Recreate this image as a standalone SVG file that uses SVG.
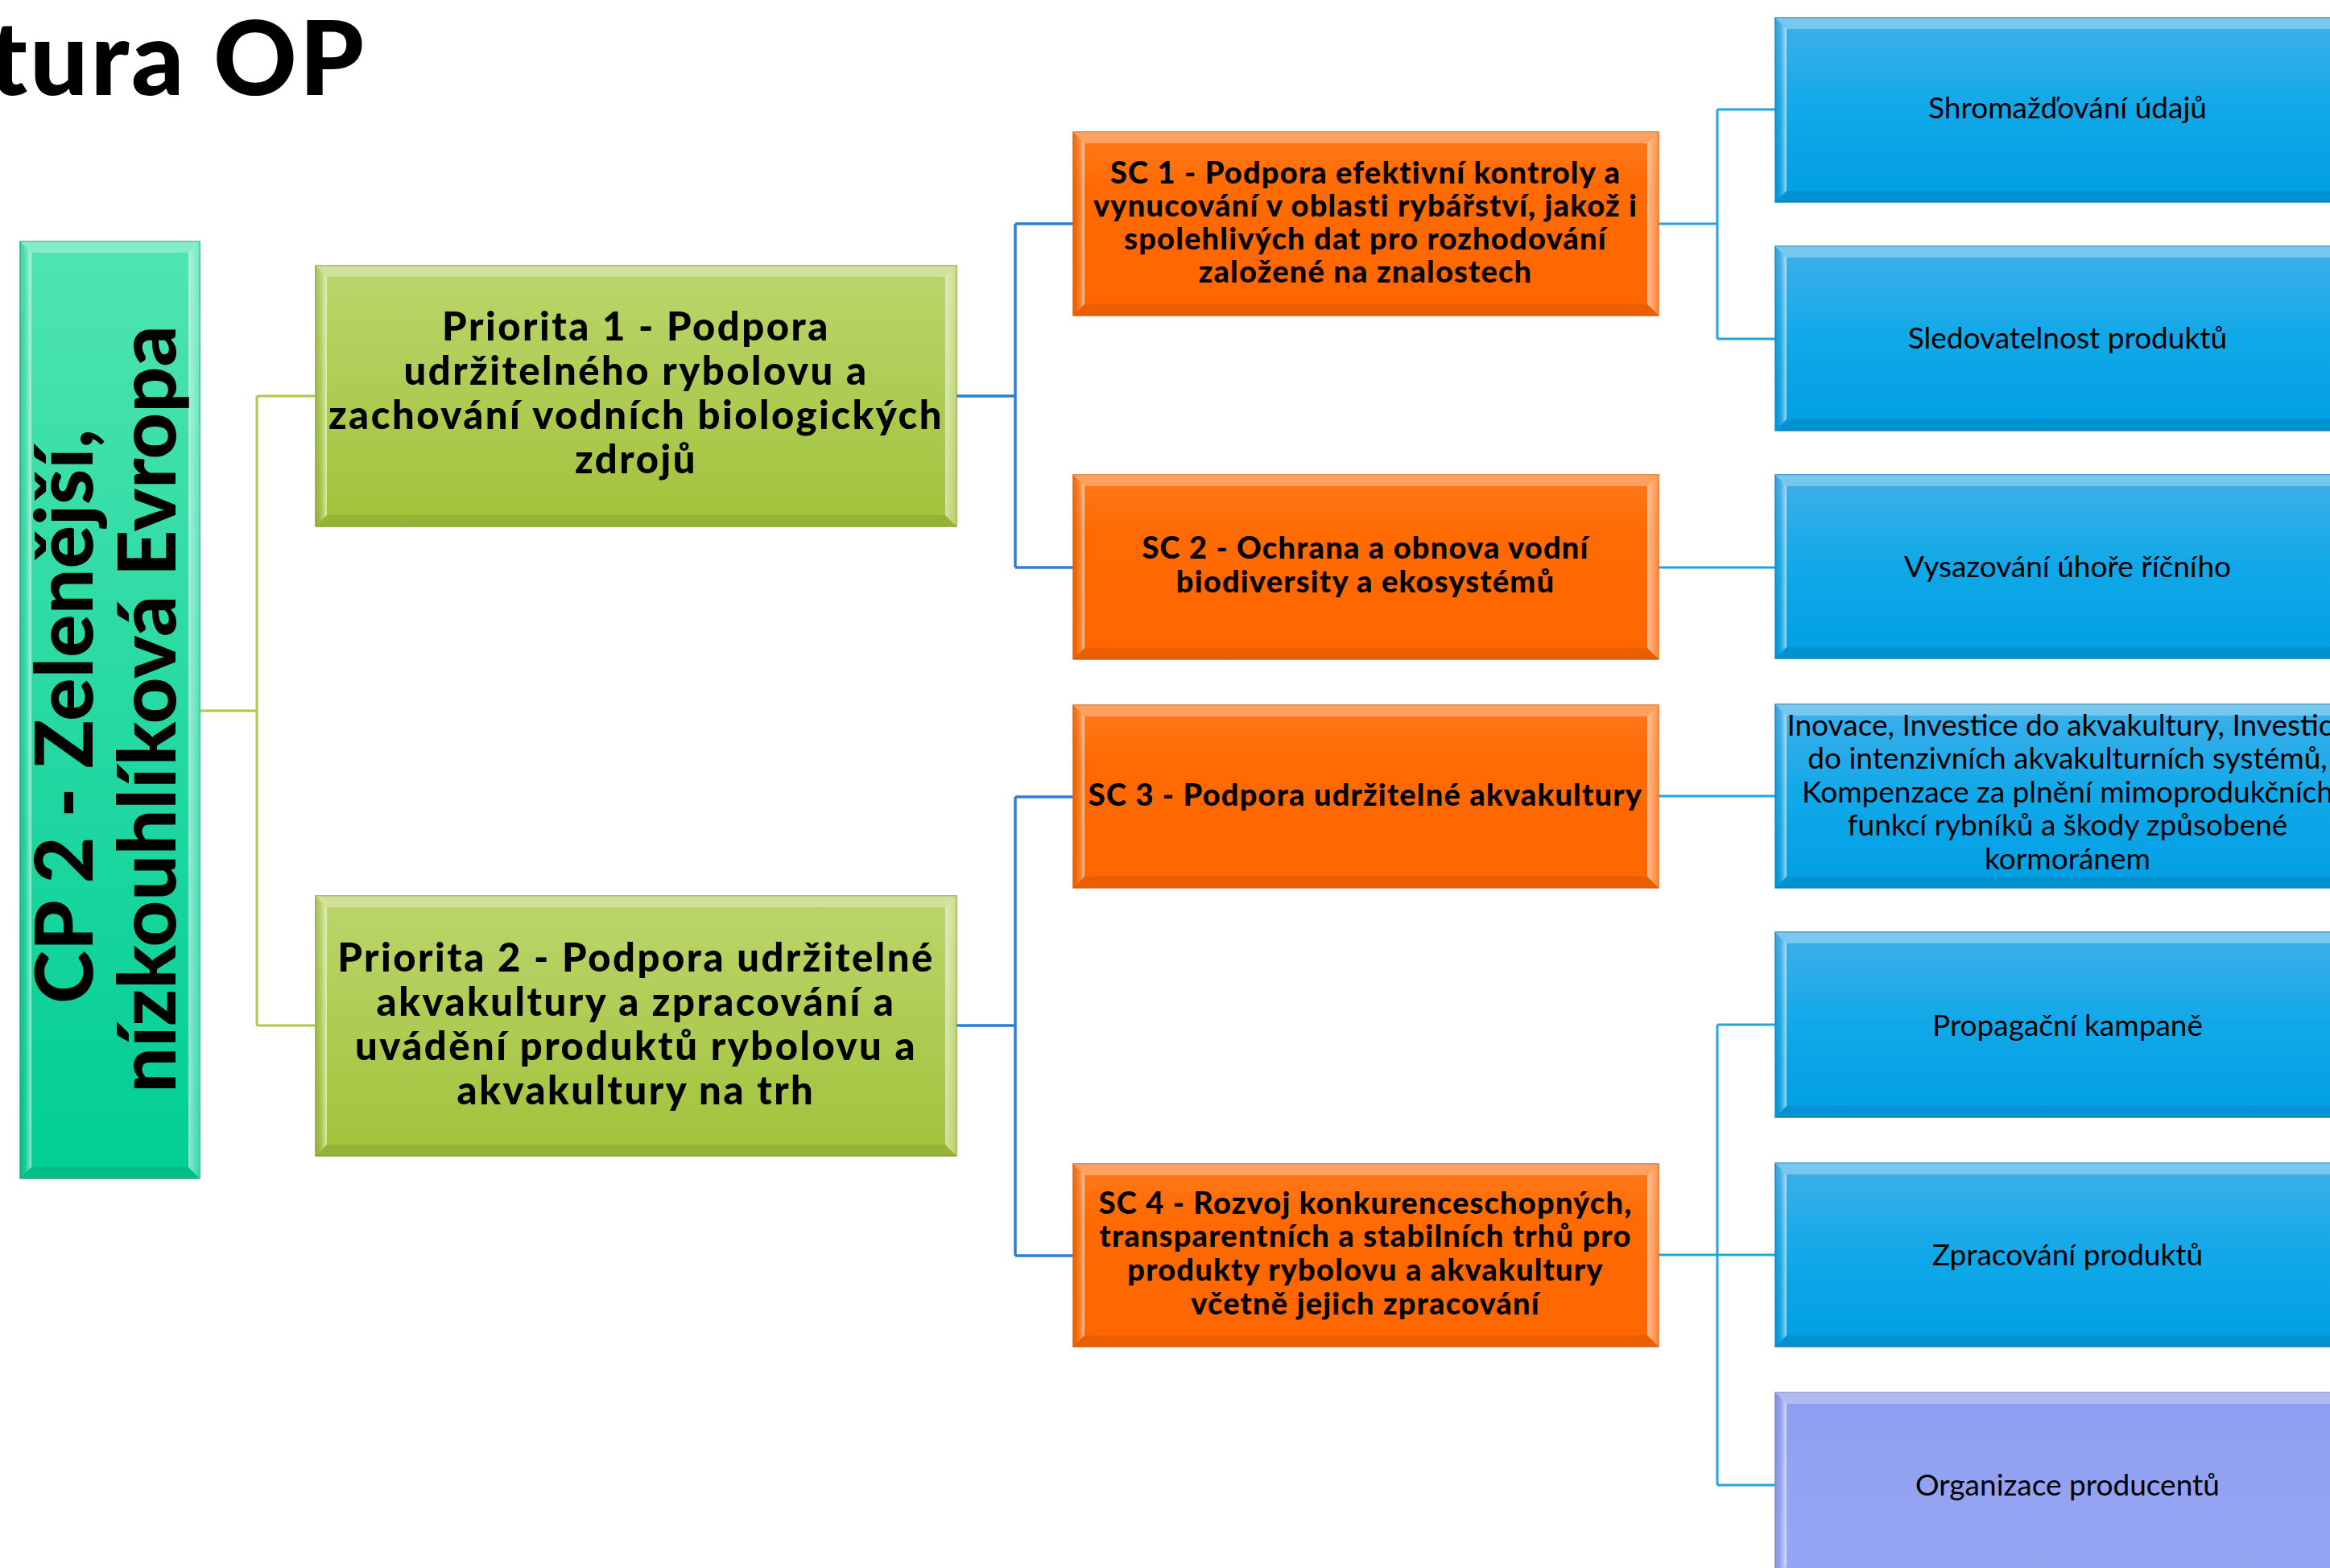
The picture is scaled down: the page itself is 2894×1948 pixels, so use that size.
<svg xmlns="http://www.w3.org/2000/svg" width="2894" height="1948" viewBox="0 0 2894 1948">
<style>
text{font-family:Lato,"Open Sans","Liberation Sans",sans-serif;fill:#000;text-anchor:middle}
.t{font-size:128px;font-weight:900;text-anchor:end;letter-spacing:3px}
.cp{font-size:100px;font-weight:900}
.pr{font-size:49px;font-weight:900;letter-spacing:2.5px}
.sc{font-size:38px;font-weight:900;letter-spacing:1.2px}
.bx{font-size:37px}
.bt{fill:#fff;fill-opacity:.3}
.bb{fill:#000;fill-opacity:.08}
.bl{fill:url(#gL)}
.br{fill:url(#gR)}
.cg{fill:none;stroke:#aac94c;stroke-width:3}
.cb{fill:none;stroke:#2a7fd6;stroke-width:3.5}
.cl{fill:none;stroke:#22a6de;stroke-width:3}
</style>
<defs>
<linearGradient id="gCP" x1="0" y1="0" x2="0" y2="1"><stop offset="0" stop-color="#4ee4b0"/><stop offset="1" stop-color="#00ce95"/></linearGradient>
<linearGradient id="gPr" x1="0" y1="0" x2="0" y2="1"><stop offset="0" stop-color="#bad66c"/><stop offset="1" stop-color="#a2c23a"/></linearGradient>
<linearGradient id="gSC" x1="0" y1="0" x2="0" y2="1"><stop offset="0" stop-color="#ff7a1e"/><stop offset=".3" stop-color="#ff6a02"/><stop offset="1" stop-color="#ff6600"/></linearGradient>
<linearGradient id="gBl" x1="0" y1="0" x2="0" y2="1"><stop offset="0" stop-color="#40b0ea"/><stop offset=".5" stop-color="#10a8e8"/><stop offset="1" stop-color="#009fe3"/></linearGradient>
<linearGradient id="gPu" x1="0" y1="0" x2="0" y2="1"><stop offset="0" stop-color="#8e9ef0"/><stop offset="1" stop-color="#97a6f3"/></linearGradient>
<linearGradient id="gL" x1="0" y1="0" x2="1" y2="0"><stop offset="0" stop-color="#000" stop-opacity=".06"/><stop offset=".6" stop-color="#fff" stop-opacity=".15"/><stop offset="1" stop-color="#fff" stop-opacity=".6"/></linearGradient>
<linearGradient id="gR" x1="0" y1="0" x2="1" y2="0"><stop offset="0" stop-color="#fff" stop-opacity=".55"/><stop offset="1" stop-color="#fff" stop-opacity=".2"/></linearGradient>
</defs>
<rect width="2894" height="1948" fill="#fff"/>
<text class="t" x="455" y="118">tura OP</text>

<g id="connectors">
<path class="cg" d="M248,883H319M319,492V1274M319,492H392M319,1274H392"/>
<path class="cb" d="M1188,492H1261M1261,278V705M1261,278H1333M1261,705H1333"/>
<path class="cb" d="M1188,1274H1261M1261,990V1560M1261,990H1333M1261,1560H1333"/>
<path class="cl" d="M2060,278H2133M2133,136V421M2133,136H2205M2133,421H2205"/>
<path class="cl" d="M2060,705H2205M2060,989H2205"/>
<path class="cl" d="M2060,1559H2133M2133,1273V1845M2133,1273H2205M2133,1559H2205M2133,1845H2205"/>
</g>

<g id="cp2">
<rect x="25" y="300" width="223" height="1164" fill="url(#gCP)" stroke="#2fae84" stroke-width="1.5"/>
<polygon class="bt" points="25,300 248,300 234,314 39,314"/>
<polygon class="bl" points="25,300 39,314 39,1450 25,1464"/>
<polygon class="br" points="248,300 248,1464 234,1450 234,314"/>
<polygon class="bb" points="25,1464 39,1450 234,1450 248,1464"/>
<text class="cp" transform="translate(115,890) rotate(-90)">CP 2 - Zelenější,</text>
<text class="cp" transform="translate(218,881) rotate(-90)">nízkouhlíková Evropa</text>
</g>

<g id="priorita1">
<rect x="392" y="330" width="796" height="324" fill="url(#gPr)" stroke="#8fa83a" stroke-width="1.5"/>
<polygon class="bt" points="392,330 1188,330 1174,344 406,344"/>
<polygon class="bl" points="392,330 406,344 406,640 392,654"/>
<polygon class="br" points="1188,330 1188,654 1174,640 1174,344"/>
<polygon class="bb" points="392,654 406,640 1174,640 1188,654"/>
<text class="pr" x="790" y="423">Priorita 1 - Podpora</text>
<text class="pr" x="790" y="478">udržitelného rybolovu a</text>
<text class="pr" x="790" y="533">zachování vodních biologických</text>
<text class="pr" x="790" y="588">zdrojů</text>
</g>

<g id="priorita2">
<rect x="392" y="1113" width="796" height="323" fill="url(#gPr)" stroke="#8fa83a" stroke-width="1.5"/>
<polygon class="bt" points="392,1113 1188,1113 1174,1127 406,1127"/>
<polygon class="bl" points="392,1113 406,1127 406,1422 392,1436"/>
<polygon class="br" points="1188,1113 1188,1436 1174,1422 1174,1127"/>
<polygon class="bb" points="392,1436 406,1422 1174,1422 1188,1436"/>
<text class="pr" x="790" y="1207">Priorita 2 - Podpora udržitelné</text>
<text class="pr" x="790" y="1262">akvakultury a zpracování a</text>
<text class="pr" x="790" y="1317">uvádění produktů rybolovu a</text>
<text class="pr" x="790" y="1372">akvakultury na trh</text>
</g>

<g id="sc1">
<rect x="1333" y="164" width="727" height="228" fill="url(#gSC)" stroke="#d9661e" stroke-width="1.5"/>
<polygon class="bt" points="1333,164 2060,164 2046,178 1347,178"/>
<polygon class="bl" points="1333,164 1347,178 1347,378 1333,392"/>
<polygon class="br" points="2060,164 2060,392 2046,378 2046,178"/>
<polygon class="bb" points="1333,392 1347,378 2046,378 2060,392"/>
<text class="sc" x="1696" y="228">SC 1 - Podpora efektivní kontroly a</text>
<text class="sc" x="1696" y="269">vynucování v oblasti rybářství, jakož i</text>
<text class="sc" x="1696" y="310">spolehlivých dat pro rozhodování</text>
<text class="sc" x="1696" y="351">založené na znalostech</text>
</g>

<g id="sc2">
<rect x="1333" y="590" width="727" height="229" fill="url(#gSC)" stroke="#d9661e" stroke-width="1.5"/>
<polygon class="bt" points="1333,590 2060,590 2046,604 1347,604"/>
<polygon class="bl" points="1333,590 1347,604 1347,805 1333,819"/>
<polygon class="br" points="2060,590 2060,819 2046,805 2046,604"/>
<polygon class="bb" points="1333,819 1347,805 2046,805 2060,819"/>
<text class="sc" x="1696" y="694">SC 2 - Ochrana a obnova vodní</text>
<text class="sc" x="1696" y="736">biodiversity a ekosystémů</text>
</g>

<g id="sc3">
<rect x="1333" y="876" width="727" height="227" fill="url(#gSC)" stroke="#d9661e" stroke-width="1.5"/>
<polygon class="bt" points="1333,876 2060,876 2046,890 1347,890"/>
<polygon class="bl" points="1333,876 1347,890 1347,1089 1333,1103"/>
<polygon class="br" points="2060,876 2060,1103 2046,1089 2046,890"/>
<polygon class="bb" points="1333,1103 1347,1089 2046,1089 2060,1103"/>
<text class="sc" x="1696" y="1001">SC 3 - Podpora udržitelné akvakultury</text>
</g>

<g id="sc4">
<rect x="1333" y="1446" width="727" height="227" fill="url(#gSC)" stroke="#d9661e" stroke-width="1.5"/>
<polygon class="bt" points="1333,1446 2060,1446 2046,1460 1347,1460"/>
<polygon class="bl" points="1333,1446 1347,1460 1347,1659 1333,1673"/>
<polygon class="br" points="2060,1446 2060,1673 2046,1659 2046,1460"/>
<polygon class="bb" points="1333,1673 1347,1659 2046,1659 2060,1673"/>
<text class="sc" x="1696" y="1508">SC 4 - Rozvoj konkurenceschopných,</text>
<text class="sc" x="1696" y="1549">transparentních a stabilních trhů pro</text>
<text class="sc" x="1696" y="1591">produkty rybolovu a akvakultury</text>
<text class="sc" x="1696" y="1633">včetně jejich zpracování</text>
</g>

<g id="box1">
<rect x="2205" y="22" width="726" height="229" fill="url(#gBl)" stroke="#1d86bf" stroke-width="1.5"/>
<polygon class="bt" points="2205,22 2931,22 2917,36 2219,36"/>
<polygon class="bl" points="2205,22 2219,36 2219,237 2205,251"/>
<polygon class="bb" points="2205,251 2219,237 2917,237 2931,251"/>
<text class="bx" x="2568" y="147">Shromažďování údajů</text>
</g>

<g id="box2">
<rect x="2205" y="306" width="726" height="229" fill="url(#gBl)" stroke="#1d86bf" stroke-width="1.5"/>
<polygon class="bt" points="2205,306 2931,306 2917,320 2219,320"/>
<polygon class="bl" points="2205,306 2219,320 2219,521 2205,535"/>
<polygon class="bb" points="2205,535 2219,521 2917,521 2931,535"/>
<text class="bx" x="2568" y="433">Sledovatelnost produktů</text>
</g>

<g id="box3">
<rect x="2205" y="590" width="726" height="228" fill="url(#gBl)" stroke="#1d86bf" stroke-width="1.5"/>
<polygon class="bt" points="2205,590 2931,590 2917,604 2219,604"/>
<polygon class="bl" points="2205,590 2219,604 2219,804 2205,818"/>
<polygon class="bb" points="2205,818 2219,804 2917,804 2931,818"/>
<text class="bx" x="2568" y="717">Vysazování úhoře říčního</text>
</g>

<g id="box4">
<rect x="2205" y="875" width="726" height="228" fill="url(#gBl)" stroke="#1d86bf" stroke-width="1.5"/>
<polygon class="bt" points="2205,875 2931,875 2917,889 2219,889"/>
<polygon class="bl" points="2205,875 2219,889 2219,1089 2205,1103"/>
<polygon class="bb" points="2205,1103 2219,1089 2917,1089 2931,1103"/>
<text class="bx" x="2568" y="914">Inovace, Investice do akvakultury, Investice</text>
<text class="bx" x="2568" y="955">do intenzivních akvakulturních systémů,</text>
<text class="bx" x="2568" y="997">Kompenzace za plnění mimoprodukčních</text>
<text class="bx" x="2568" y="1038">funkcí rybníků a škody způsobené</text>
<text class="bx" x="2568" y="1080">kormoránem</text>
</g>

<g id="box5">
<rect x="2205" y="1158" width="726" height="230" fill="url(#gBl)" stroke="#1d86bf" stroke-width="1.5"/>
<polygon class="bt" points="2205,1158 2931,1158 2917,1172 2219,1172"/>
<polygon class="bl" points="2205,1158 2219,1172 2219,1374 2205,1388"/>
<polygon class="bb" points="2205,1388 2219,1374 2917,1374 2931,1388"/>
<text class="bx" x="2568" y="1287">Propagační kampaně</text>
</g>

<g id="box6">
<rect x="2205" y="1445" width="726" height="228" fill="url(#gBl)" stroke="#1d86bf" stroke-width="1.5"/>
<polygon class="bt" points="2205,1445 2931,1445 2917,1459 2219,1459"/>
<polygon class="bl" points="2205,1445 2219,1459 2219,1659 2205,1673"/>
<polygon class="bb" points="2205,1673 2219,1659 2917,1659 2931,1673"/>
<text class="bx" x="2568" y="1572">Zpracování produktů</text>
</g>

<g id="box7">
<rect x="2205" y="1730" width="726" height="230" fill="url(#gPu)" stroke="#7c8ad0" stroke-width="1.5"/>
<polygon class="bt" points="2205,1730 2931,1730 2917,1744 2219,1744"/>
<polygon class="bl" points="2205,1730 2219,1744 2219,1946 2205,1960"/>
<text class="bx" x="2568" y="1858">Organizace producentů</text>
</g>
</svg>
